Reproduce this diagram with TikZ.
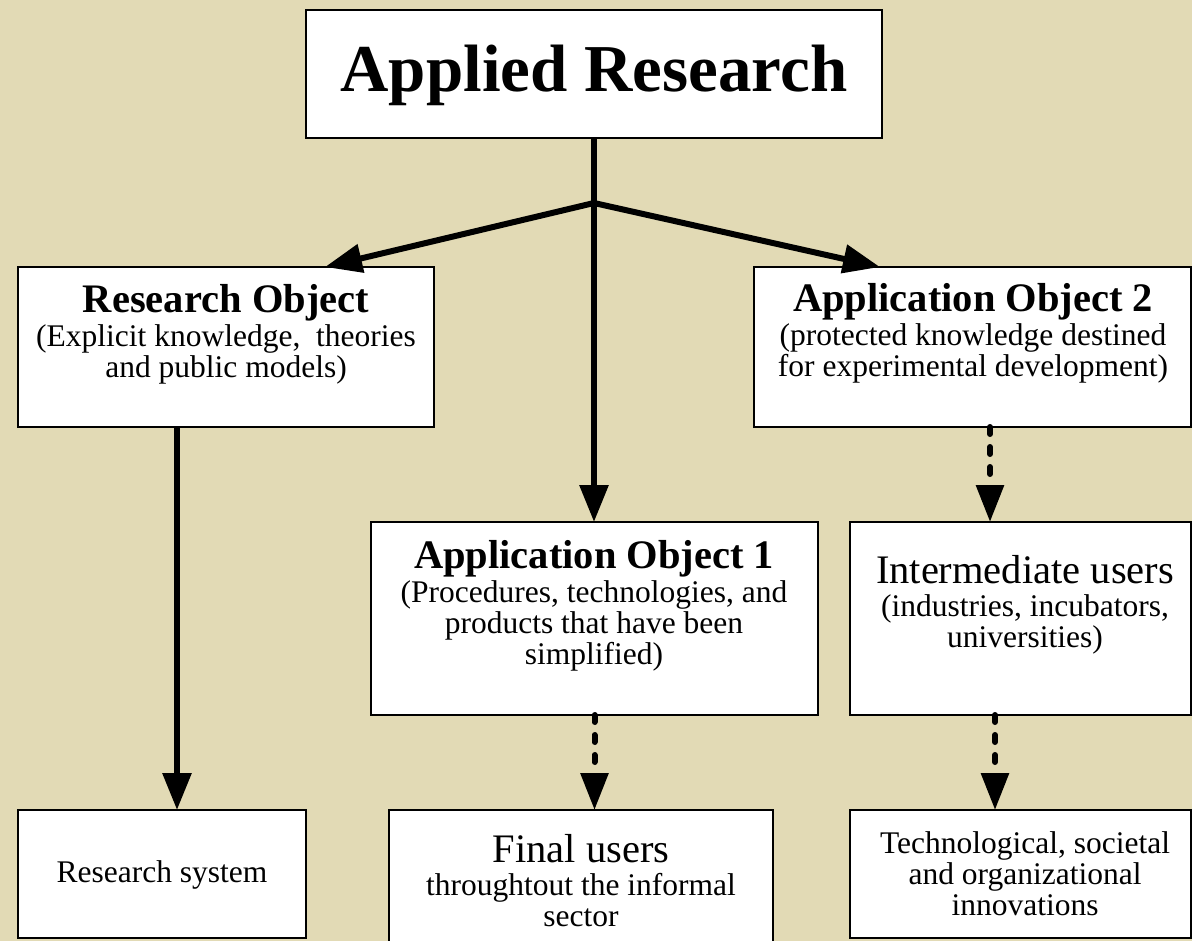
\documentclass[tikz,border=0pt]{standalone}
\usepackage{fontspec}
\setmainfont{Liberation Serif}
\usetikzlibrary{arrows.meta}
\definecolor{bgcol}{RGB}{226,218,181}
\newcommand\mytitlefont{\fontsize{40.5}{42}\selectfont\bfseries}
\newcommand\mybigfont{\fontsize{40.5}{42}\selectfont}
\newcommand\mysubfont{\fontsize{31.5}{31.5}\selectfont}
\newcommand\mylines[1]{\vtop{\baselineskip=31pt\lineskiplimit=-1000pt\lineskip=0pt\halign{\hfil##\hfil\cr#1\crcr}}}
\begin{document}
\begin{tikzpicture}[x=1pt,y=-1pt,
  box/.style={draw=black,line width=1.4pt,fill=white,inner sep=0pt,outer sep=0pt},
  lbl/.style={anchor=base,inner sep=0pt,outer sep=0pt,text=black},
  solidarrow/.style={line width=6pt,-{Triangle[length=37pt,width=28pt]}},
  dotarrow/.style={line width=6pt,line cap=round,dash pattern=on 7pt off 13pt,-{Triangle[length=37pt,width=27pt]}}]
\fill[bgcol] (0,0) rectangle (1192,941);
\useasboundingbox (0,0) rectangle (1192,941);
\clip (0,0) rectangle (1192,941);
% boxes
\node[box,minimum width=576pt,minimum height=128pt] (top) at (594,74) {};
\node[box,minimum width=416pt,minimum height=160pt] (ro) at (226,347) {};
\node[box,minimum width=437pt,minimum height=160pt] (ao2) at (972.5,347) {};
\node[box,minimum width=447pt,minimum height=193pt] (ao1) at (594.5,618.5) {};
\node[box,minimum width=341pt,minimum height=193pt] (iu) at (1020.5,618.5) {};
\node[box,minimum width=288pt,minimum height=128pt] (rs) at (162,874) {};
\node[box,minimum width=384pt,minimum height=140pt] (fu) at (581,880) {};
\node[box,minimum width=341pt,minimum height=128pt] (ti) at (1020.5,874) {};
% texts
\node[lbl,font=\fontsize{67}{70}\selectfont\bfseries] (topt) at (594,92) {Applied Research};
\node[lbl] (rot) at (226,313) {\mylines{\mytitlefont Research Object\cr\noalign{\kern3pt}
  \mysubfont (Explicit knowledge,\ \ theories\cr \mysubfont and public models)}};
\node[lbl] (ao2t) at (973,312) {\mylines{\mytitlefont Application Object 2\cr\noalign{\kern3pt}
  \mysubfont (protected knowledge destined\cr \mysubfont for experimental development)}};
\node[lbl] (ao1t) at (594,568) {\mylines{\mytitlefont Application Object 1\cr\noalign{\kern3pt}
  \mysubfont (Procedures, technologies, and\cr \mysubfont products that have been\cr \mysubfont simplified)}};
\node[lbl] (iut) at (1025,583) {\mylines{\mybigfont Intermediate users\cr\noalign{\kern2pt}
  \mysubfont (industries, incubators,\cr \mysubfont universities)}};
\node[lbl] (fut) at (581,862) {\mylines{\mybigfont Final users\cr\noalign{\kern2pt}
  \mysubfont throughtout the informal\cr \mysubfont sector}};
\node[lbl] (tit) at (1025,853) {\mylines{\mysubfont Technological, societal\cr
  \mysubfont and organizational\cr \mysubfont innovations}};
\node[lbl,font=\mysubfont] (rst) at (162,882) {Research system};
% connectors
\coordinate (j) at (594,203);
\draw[line width=6pt] (top.south) -- (j);
\draw[solidarrow] (top.south) -- (top.south |- ao1.north);
\draw[solidarrow] (j) -- ([xshift=307pt]ro.north west);
\draw[solidarrow] (j) -- ([xshift=126pt]ao2.north west);
\draw[solidarrow] ([xshift=159pt]ro.south west) -- ([xshift=159pt]rs.north west);
\draw[dotarrow] ([xshift=236pt]ao2.south west) -- ([xshift=140pt]iu.north west);
\draw[dotarrow] (ao1.south) -- (ao1.south |- fu.north);
\draw[dotarrow] ([xshift=145pt]iu.south west) -- ([xshift=145pt]ti.north west);
\end{tikzpicture}
\end{document}
